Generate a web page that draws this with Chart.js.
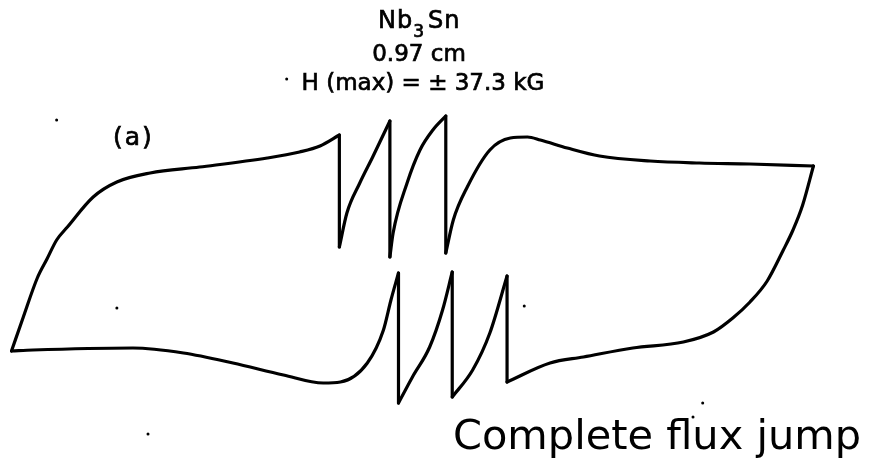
<!DOCTYPE html>
<html>
<head>
<meta charset="utf-8">
<title>Nb3Sn - complete flux jump</title>
<script src="https://cdn.jsdelivr.net/npm/chart.js@4"></script>
<style>
 html,body{margin:0;padding:0;background:#fff;}
 #wrap{width:869px;height:465px;}
</style>
</head>
<body>
<div id="wrap"><canvas id="canvas_loop" width="869" height="465"></canvas></div>
<script>
// values: H in kG, M in arbitrary units
// upper branch, field going down from +37.3 to -37.3 kG
var upper_h=[37.3,31.4,26.7,22.1,17.4,14.4,11.9,10.7,9.1,7.2,5.1,3.8,3.1, 3.1,1.9,0.7,-0.5,-1.8,-2.1, -2.1,-3.7,-4.9,-6.1,-6.8, -6.8,-8.6,-10.5,-13.5,-19.8,-24.4,-27.5,-29.7,-32.1,-33.1,-34.0,-34.9,-36.2,-37.3];
var upper_m=[9.3,9.5,9.6,9.8,10.3,11.1,11.9,12.2,12.1,10.9,7.2,3.9,0.6, 14.3,12.9,10.9,7.6,2.6,0.2, 13.8,10.2,7.6,4.6,1.2, 12.4,11.3,10.7,10.1,9.2,8.6,7.7,6.2,3.2,1.9,0.0,-1.9,-5.8,-9.2];
// lower branch, field going up from -37.3 to +37.3 kG
var lower_h=[-37.3,-35.3,-26.0,-21.3,-16.7,-12.0,-8.3,-6.7,-4.2,-2.7,-2.0,-1.3, -1.3,0.0,1.6,2.8,3.7, 3.7,5.6,7.2,8.8, 8.8,12.8,15.9,20.5,25.2,28.0,29.8,31.4,33.0,34.5,35.4,36.3,37.3];
var lower_m=[-9.2,-9.1,-8.9,-9.4,-10.4,-11.6,-12.4,-12.3,-10.4,-7.1,-4.1,-1.4, -14.4,-11.8,-8.8,-5.1,-1.3, -13.8,-11.1,-7.4,-1.7, -12.3,-10.4,-9.8,-8.9,-8.3,-7.3,-5.9,-4.3,-2.2,0.9,2.9,5.4,9.3];
// stray specks of the scan
var speck_h=[-33.1,-11.7,-27.5,-24.6,10.4,27.0,26.1];
var speck_m=[13.9,18.0,-4.9,-17.5,-4.7,-14.4,-15.8];
// texts
var title_parts=["Nb","3","Sn"];
var title_lines=["0.97 cm","H (max) = ± 37.3 kG"];
var panel_label="(a)";
var note_label="Complete flux jump";

// split a branch into smooth pieces and vertical flux jumps
function pieces(h,m){
 var out=[],cur=[{x:h[0],y:m[0]}];
 for(var i=1;i<h.length;i++){
  if(h[i]===h[i-1]){
   out.push({pts:cur,jump:false});
   out.push({pts:[{x:h[i-1],y:m[i-1]},{x:h[i],y:m[i]}],jump:true});
   cur=[{x:h[i],y:m[i]}];
  }else{
   cur.push({x:h[i],y:m[i]});
  }
 }
 out.push({pts:cur,jump:false});
 return out;
}

// build datasets
var datasets=[];
pieces(upper_h,upper_m).concat(pieces(lower_h,lower_m)).forEach(function(p){
 datasets.push({
  data:p.pts,
  showLine:true,
  borderColor:'#000',
  borderWidth:3.2,
  borderCapStyle:'round',
  borderJoinStyle:'round',
  pointRadius:0,
  cubicInterpolationMode:p.jump?'default':'monotone',
  tension:0,
  fill:false
 });
});
datasets.push({
 data:speck_h.map(function(v,i){return {x:v,y:speck_m[i]};}),
 showLine:false,
 pointRadius:1.5,
 pointBorderWidth:0,
 pointBackgroundColor:'#000'
});

// text with a slightly heavier stroke, like the lettering of the scan
function heavy(ctx,txt,x,y){
 ctx.fillText(txt,x,y);
 ctx.strokeText(txt,x,y);
}

// labels drawn on top of the loop
var labels_plugin={
 id:'labels',
 afterDraw:function(chart){
  var ctx=chart.ctx;
  ctx.save();
  ctx.fillStyle='#000';
  ctx.strokeStyle='#000';
  ctx.lineWidth=0.7;
  ctx.textBaseline='alphabetic';
  // Nb3Sn with a lowered 3, placed piece by piece
  ctx.textAlign='left';
  ctx.font='24px "DejaVu Sans"';
  ctx.letterSpacing='1px';
  var x=378;
  heavy(ctx,title_parts[0],x,28);
  x+=ctx.measureText(title_parts[0]).width;
  ctx.font='17px "DejaVu Sans"';
  ctx.letterSpacing='0px';
  heavy(ctx,title_parts[1],x,37);
  x+=ctx.measureText(title_parts[1]).width+4;
  ctx.font='24px "DejaVu Sans"';
  ctx.letterSpacing='1px';
  heavy(ctx,title_parts[2],x,28);
  ctx.letterSpacing='0px';
  ctx.textAlign='center';
  ctx.font='23px "DejaVu Sans"';
  heavy(ctx,title_lines[0],419,61);
  heavy(ctx,title_lines[1],423,90);
  ctx.textAlign='left';
  ctx.font='25px "DejaVu Sans"';
  ctx.letterSpacing='2px';
  heavy(ctx,panel_label,113,145);
  ctx.letterSpacing='0px';
  ctx.font='41.5px "DejaVu Sans"';
  ctx.fillText(note_label,453,449);
  ctx.restore();
 }
};

var ctx=document.getElementById("canvas_loop").getContext('2d');
var myChart=new Chart(ctx,{
 type:'scatter',
 data:{datasets:datasets},
 options:{
  responsive:false,
  animation:false,
  layout:{padding:0,autoPadding:false},
  plugins:{legend:{display:false},tooltip:{enabled:false}},
  scales:{
   x:{type:'linear',display:false,min:-38.37,max:42.47},
   y:{type:'linear',display:false,min:-20.6,max:25.9}
  }
 },
 plugins:[labels_plugin]
});
</script>
</body>
</html>
